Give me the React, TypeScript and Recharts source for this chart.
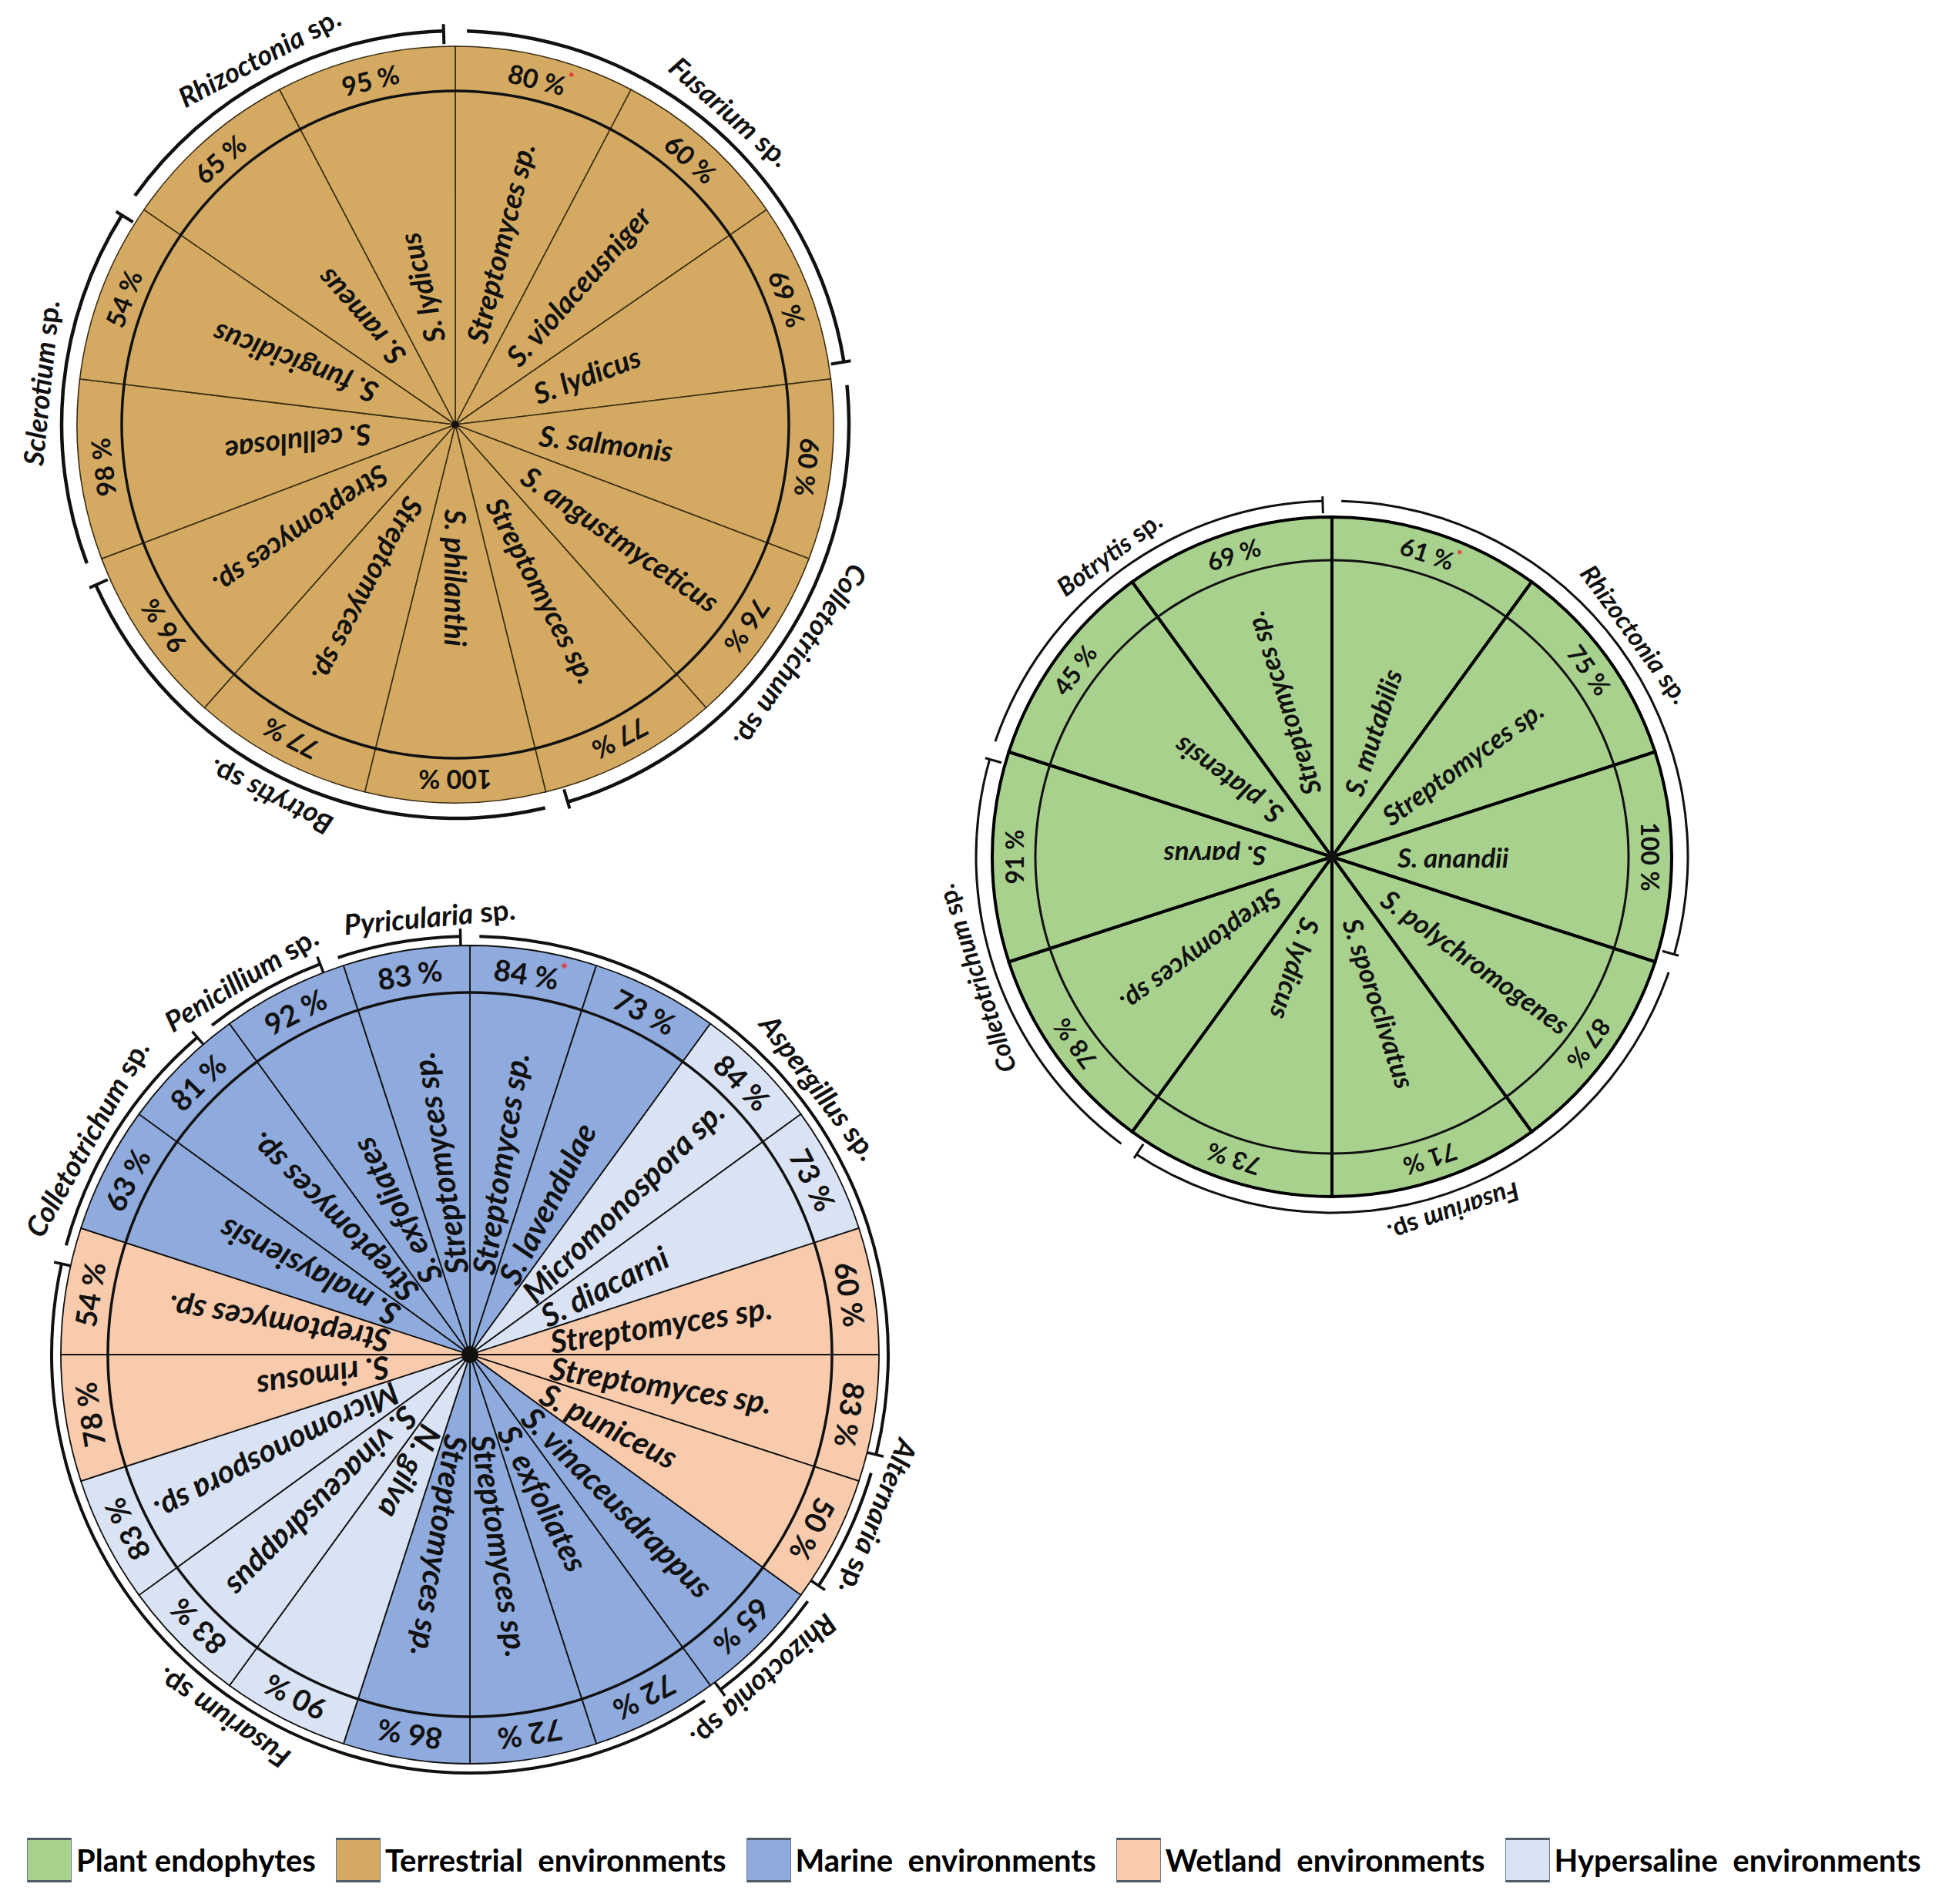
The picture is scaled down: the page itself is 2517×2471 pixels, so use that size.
import React from 'react';
import { PieChart, Pie, Cell } from 'recharts';

const FONT = 'Lato, "Open Sans", "DejaVu Sans", sans-serif';
const RAD = Math.PI / 180;

// ---------- colours per environment ----------
const envNames = ['Plant endophytes', 'Terrestrial  environments', 'Marine  environments', 'Wetland  environments', 'Hypersaline  environments'];
const envKeys = ['plant', 'terrestrial', 'marine', 'wetland', 'hypersaline'];
const envColors = ['#A9D18E', '#D4AA62', '#8FAADC', '#F8CBAD', '#DAE3F3'];
const colorOf = (k: string) => envColors[envKeys.indexOf(k)];

// ---------- Terrestrial pie (clockwise from 12 o'clock) ----------
const terrStrains = ['Streptomyces sp.', 'S. violaceusniger', 'S. lydicus', 'S. salmonis', 'S. angustmyceticus', 'Streptomyces sp.', 'S. philanthi', 'Streptomyces sp.', 'Streptomyces sp.', 'S. cellulosae', 'S. fungicidicus', 'S. rameus', 'S. lydicus'];
const terrInhibition = [80, 60, 69, 60, 76, 77, 100, 77, 96, 98, 54, 65, 95];
const terrEnv = ['terrestrial', 'terrestrial', 'terrestrial', 'terrestrial', 'terrestrial', 'terrestrial', 'terrestrial', 'terrestrial', 'terrestrial', 'terrestrial', 'terrestrial', 'terrestrial', 'terrestrial'];
const terrMarked = [0];
const terrPathogens = ['Fusarium sp.', 'Colletotrichum sp.', 'Botrytis sp.', 'Sclerotium sp.', 'Rhizoctonia sp.'];
const terrPathogenSlices = [3, 3, 3, 2, 2];

// ---------- Plant endophytes pie ----------
const plantStrains = ['S. mutabilis', 'Streptomyces sp.', 'S. anandii', 'S. polychromogenes', 'S. sporoclivatus', 'S. lydicus', 'Streptomyces sp.', 'S. parvus', 'S. platensis', 'Streptomyces sp.'];
const plantInhibition = [61, 75, 100, 87, 71, 73, 78, 91, 45, 69];
const plantEnv = ['plant', 'plant', 'plant', 'plant', 'plant', 'plant', 'plant', 'plant', 'plant', 'plant'];
const plantMarked = [0];
const plantPathogens = ['Rhizoctonia sp.', 'Fusarium sp.', 'Colletotrichum sp.', 'Botrytis sp.'];
const plantPathogenSlices = [3, 3, 2, 2];

// ---------- Marine / wetland / hypersaline pie ----------
const marStrains = ['Streptomyces sp.', 'S. lavendulae', 'Micromonospora sp.', 'S. diacarni', 'Streptomyces sp.', 'Streptomyces sp.', 'S. puniceus', 'S. vinaceusdrappus', 'S. exfoliates', 'Streptomyces sp.', 'Streptomyces sp.', 'N. gilva', 'S. vinaceusdrappus', 'Micromonospora sp.', 'S. rimosus', 'Streptomyces sp.', 'S. malaysiensis', 'Streptomyces sp.', 'S. exfoliates', 'Streptomyces sp.'];
const marInhibition = [84, 73, 84, 73, 60, 83, 50, 65, 72, 72, 86, 90, 83, 83, 78, 54, 63, 81, 92, 83];
const marEnv = ['marine', 'marine', 'hypersaline', 'hypersaline', 'wetland', 'wetland', 'wetland', 'marine', 'marine', 'marine', 'marine', 'hypersaline', 'hypersaline', 'hypersaline', 'wetland', 'wetland', 'marine', 'marine', 'marine', 'marine'];
const marMarked = [0];
const marPathogens = ['Aspergillus sp.', 'Alternaria sp.', 'Rhizoctonia sp.', 'Fusarium sp.', 'Colletotrichum sp.', 'Penicillium sp.', 'Pyricularia sp.'];
const marPathogenSlices = [6, 1, 1, 8, 2, 1, 1];

const buildRows = (strains: string[], inh: number[], env: string[], marked: number[]) =>
  strains.map((s, i) => ({ strain: s, inhibition: inh[i], env: env[i], marked: marked.includes(i), share: 1 }));

type Cfg = {
  w: number; h: number; cx: number; cy: number;
  R: number; ringR: number; ringW: number; dotR: number;
  sliceStroke: string; sliceStrokeW: number;
  strainR: number; strainSize: number; pctR: number; pctSize: number;
  arcR: number; arcW: number; tickIn: number; tickOut: number; tickW: number;
  labelR: number; labelSize: number; gap: number;
};

let measureCtx: CanvasRenderingContext2D | null = null;
function measureText(text: string, size: number) {
  if (!measureCtx) measureCtx = document.createElement('canvas').getContext('2d');
  if (!measureCtx) return text.length * size * 0.45;
  measureCtx.font = `bold ${size}px Lato, "Open Sans", sans-serif`;
  return measureCtx.measureText(text).width;
}

// small angular nudges so that neighbouring pathogen labels do not collide
function labelNudges(names: string[], slices: number[], cfg: Cfg) {
  const total = slices.reduce((a, b) => a + b, 0);
  let acc = 0;
  const mids = slices.map((s) => { const m = ((acc + s / 2) * 360) / total; acc += s; return m; });
  const half = names.map((n) => (measureText(n, cfg.labelSize) / 2 / cfg.labelR) / RAD);
  const pos = mids.slice();
  const pad = 1.2;
  for (let it = 0; it < 300; it++) {
    let moved = false;
    for (let i = 0; i < pos.length; i++) {
      const j = (i + 1) % pos.length;
      let d = pos[j] - pos[i];
      if (d < 0) d += 360;
      const need = half[i] + half[j] + pad;
      if (d < need - 0.01) {
        const push = (need - d) / 2;
        pos[i] -= push;
        pos[j] += push;
        moved = true;
      }
    }
    if (!moved) break;
  }
  return pos.map((p, i) => p - mids[i]);
}

const buildGroups = (names: string[], slices: number[], cfg: Cfg) => {
  const nudge = labelNudges(names, slices, cfg);
  return names.map((n, i) => ({ pathogen: n, slices: slices[i], nudge: nudge[i] }));
};

const field = (p: any, k: string) => (p[k] !== undefined ? p[k] : p.payload ? p.payload[k] : undefined);

function sliceLabel(cfg: Cfg) {
  return (props: any) => {
    const { cx, cy, midAngle, index } = props;
    const a = -midAngle * RAD;
    const sx = cx + cfg.strainR * Math.cos(a);
    const sy = cy + cfg.strainR * Math.sin(a);
    const px = cx + cfg.pctR * Math.cos(a);
    const py = cy + cfg.pctR * Math.sin(a);
    const tang = 90 - midAngle;
    return (
      <g key={`sl-${index}`}>
        <text x={sx} y={sy} transform={`rotate(${-midAngle} ${sx} ${sy})`} textAnchor="start" dominantBaseline="central"
          fontFamily={FONT} fontWeight={700} fontStyle="italic" fontSize={cfg.strainSize} fill="#111">
          {field(props, 'strain')}
        </text>
        <text x={px} y={py} transform={`rotate(${tang} ${px} ${py})`} textAnchor="middle" dominantBaseline="central"
          fontFamily={FONT} fontWeight={700} fontSize={cfg.pctSize} fill="#111">
          {`${field(props, 'inhibition')} %`}
          {field(props, 'marked') ? (
            <tspan fill="#E5322B" fontSize={cfg.pctSize * 0.6} dy={-cfg.pctSize * 0.35}>*</tspan>
          ) : null}
        </text>
      </g>
    );
  };
}

function groupLabel(cfg: Cfg) {
  return (props: any) => {
    const { cx, cy, midAngle, endAngle, index } = props;
    const name: string = field(props, 'pathogen');
    const nudge: number = field(props, 'nudge') || 0;
    const sp = name.lastIndexOf(' ');
    const genus = name.slice(0, sp);
    const suffix = name.slice(sp);
    const la = midAngle - nudge;
    const a = -la * RAD;
    const lx = cx + cfg.labelR * Math.cos(a);
    const ly = cy + cfg.labelR * Math.sin(a);
    const e = -endAngle * RAD;
    const r1 = cfg.arcR - cfg.tickIn;
    const r2 = cfg.arcR + cfg.tickOut;
    return (
      <g key={`gl-${index}`}>
        <line x1={cx + r1 * Math.cos(e)} y1={cy + r1 * Math.sin(e)} x2={cx + r2 * Math.cos(e)} y2={cy + r2 * Math.sin(e)}
          stroke="#111" strokeWidth={cfg.tickW} />
        <text x={lx} y={ly} transform={`rotate(${90 - la} ${lx} ${ly})`} textAnchor="middle" dominantBaseline="central"
          fontFamily={FONT} fontWeight={700} fontSize={cfg.labelSize} fill="#111">
          <tspan fontStyle="italic">{genus}</tspan>
          <tspan>{suffix}</tspan>
        </text>
      </g>
    );
  };
}

const single = [{ k: 'all', v: 1 }];

function Wheel({ cfg, rows, groups }: { cfg: Cfg; rows: any[]; groups: any[] }) {
  return (
    <PieChart width={cfg.w} height={cfg.h} margin={{ top: 0, right: 0, bottom: 0, left: 0 }}>
      <Pie data={rows} dataKey="share" nameKey="strain" cx={cfg.cx} cy={cfg.cy} innerRadius={0} outerRadius={cfg.R}
        startAngle={90} endAngle={-270} isAnimationActive={false} labelLine={false} label={sliceLabel(cfg)}>
        {rows.map((r, i) => (
          <Cell key={i} fill={colorOf(r.env)} stroke={cfg.sliceStroke} strokeWidth={cfg.sliceStrokeW} />
        ))}
      </Pie>
      <Pie data={single} dataKey="v" cx={cfg.cx} cy={cfg.cy} innerRadius={cfg.ringR - cfg.ringW / 2} outerRadius={cfg.ringR + cfg.ringW / 2}
        startAngle={90} endAngle={-270} isAnimationActive={false} fill="#111" stroke="none" />
      <Pie data={single} dataKey="v" cx={cfg.cx} cy={cfg.cy} innerRadius={0} outerRadius={cfg.dotR}
        startAngle={90} endAngle={-270} isAnimationActive={false} fill="#111" stroke="none" />
      <Pie data={groups} dataKey="slices" nameKey="pathogen" cx={cfg.cx} cy={cfg.cy}
        innerRadius={cfg.arcR - cfg.arcW / 2} outerRadius={cfg.arcR + cfg.arcW / 2}
        startAngle={90 - cfg.gap / 2} endAngle={-270 - cfg.gap / 2} paddingAngle={cfg.gap}
        isAnimationActive={false} fill="#111" stroke="none" labelLine={false} label={groupLabel(cfg)} />
    </PieChart>
  );
}

const terrCfg: Cfg = {
  w: 1200, h: 1150, cx: 591, cy: 551, R: 491, ringR: 433, ringW: 3.5, dotR: 5,
  sliceStroke: '#3b2d14', sliceStrokeW: 1.6,
  strainR: 110, strainSize: 37.5, pctR: 461, pctSize: 34,
  arcR: 511, arcW: 4.5, tickIn: 17, tickOut: 9, tickW: 4, labelR: 541, labelSize: 36, gap: 3.4,
};
const plantCfg: Cfg = {
  w: 1150, h: 1150, cx: 579, cy: 562, R: 441, ringR: 385, ringW: 3, dotR: 7,
  sliceStroke: '#000', sliceStrokeW: 4,
  strainR: 85, strainSize: 35, pctR: 413, pctSize: 32,
  arcR: 462, arcW: 3, tickIn: 16, tickOut: 6, tickW: 3, labelR: 489, labelSize: 33, gap: 3,
};
const marCfg: Cfg = {
  w: 1250, h: 1250, cx: 610, cy: 628, R: 531, ringR: 470, ringW: 3.5, dotR: 11,
  sliceStroke: '#111', sliceStrokeW: 1.8,
  strainR: 106, strainSize: 41, pctR: 500, pctSize: 38,
  arcR: 543, arcW: 4, tickIn: 12, tickOut: 10, tickW: 3.5, labelR: 572, labelSize: 37, gap: 2.6,
};

export default function App() {
  const terrRows = buildRows(terrStrains, terrInhibition, terrEnv, terrMarked);
  const plantRows = buildRows(plantStrains, plantInhibition, plantEnv, plantMarked);
  const marRows = buildRows(marStrains, marInhibition, marEnv, marMarked);
  return (
    <div style={{ position: 'absolute', left: 0, top: 0, width: 2517, height: 2471, background: '#fff', fontFamily: FONT, overflow: 'hidden' }}>
      <div style={{ position: 'absolute', left: 0, top: 0 }}>
        <Wheel cfg={terrCfg} rows={terrRows} groups={buildGroups(terrPathogens, terrPathogenSlices, terrCfg)} />
      </div>
      <div style={{ position: 'absolute', left: 1150, top: 550 }}>
        <Wheel cfg={plantCfg} rows={plantRows} groups={buildGroups(plantPathogens, plantPathogenSlices, plantCfg)} />
      </div>
      <div style={{ position: 'absolute', left: 0, top: 1130 }}>
        <Wheel cfg={marCfg} rows={marRows} groups={buildGroups(marPathogens, marPathogenSlices, marCfg)} />
      </div>
      <div style={{ position: 'absolute', left: 35, top: 2387, display: 'flex', alignItems: 'center', height: 54 }}>
        {envNames.map((n, i) => (
          <div key={n} style={{ display: 'flex', alignItems: 'center', marginRight: 26 }}>
            <div style={{ width: 56, height: 52, background: envColors[i], borderTop: '3px solid #4f5b66', borderBottom: '3px solid #4f5b66', borderLeft: '1px solid #6b7b8a', borderRight: '1px solid #6b7b8a' }} />
            <span style={{ marginLeft: 6, fontWeight: 700, fontSize: 40, whiteSpace: 'pre', color: '#000', lineHeight: '54px' }}>{n}</span>
          </div>
        ))}
      </div>
    </div>
  );
}
